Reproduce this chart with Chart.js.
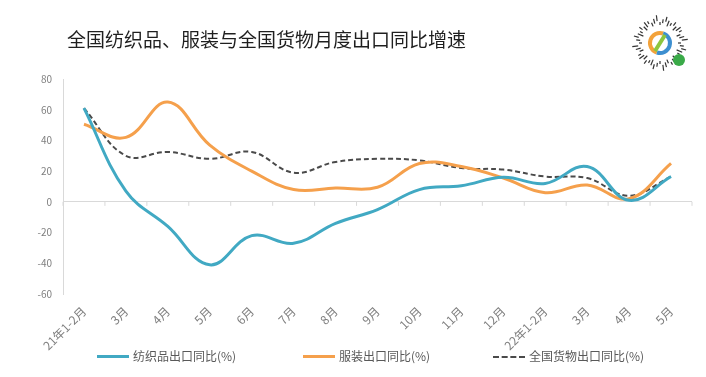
<!DOCTYPE html>
<html lang="zh">
<head>
  <meta charset="UTF-8" />
  <title>全国纺织品、服装与全国货物月度出口同比增速</title>
  <script src="https://cdn.jsdelivr.net/npm/chart.js"></script>
  <style>
    body {
      margin: 0;
      background: #fff;
      font-family: "Noto Sans CJK SC", "Noto Sans", sans-serif;
    }
    .wrap {
      position: relative;
      width: 706px;
      height: 377px;
    }
    #title {
      position: absolute;
      left: 67px;
      top: 25px;
      font-size: 19px;
      color: #1f1f1f;
      white-space: nowrap;
    }
    .item {
      position: absolute;
      top: 347px;
      font-size: 12px;
      color: #595959;
      white-space: nowrap;
      line-height: 18px;
    }
    .item i {
      display: inline-block;
      width: 32px;
      vertical-align: middle;
      margin-right: 4px;
      margin-top: -2px;
    }
  </style>
</head>
<body>
<div class="wrap">
  <canvas id="chart" width="706" height="377"></canvas>
  <div id="title">全国纺织品、服装与全国货物月度出口同比增速</div>
  <div class="item" style="left:97px"><i style="border-top:3px solid #41a9c3"></i>纺织品出口同比(%)</div>
  <div class="item" style="left:303px"><i style="border-top:3px solid #f5a04c"></i>服装出口同比(%)</div>
  <div class="item" style="left:493px"><i style="border-top:2px dashed #4a4a4a"></i>全国货物出口同比(%)</div>
</div>

<script>
  const labels = ['21年1-2月', '3月', '4月', '5月', '6月', '7月', '8月', '9月', '10月', '11月', '12月', '22年1-2月', '3月', '4月', '5月'];
  const textile = [61, 7, -16, -41, -22, -27, -14, -5, 8, 10.5, 16, 12, 23, 1, 16.5];
  const apparel = [50.5, 42, 65, 37, 20, 8, 9, 9.5, 25, 23, 15.5, 6, 11, 2, 25];
  const goods = [61, 30, 32.5, 28, 32.5, 19, 26, 28, 27, 22, 21, 16.5, 15.5, 4, 16.5];
  const yTicks = [-60, -40, -20, 0, 20, 40, 60, 80];

  // small tick marks along the zero line, between categories
  const zeroTicks = {
    id: 'zeroTicks',
    afterDatasetsDraw(chart) {
      const x = chart.scales.x, y = chart.scales.y;
      const y0 = y.getPixelForValue(0);
      const ctx = chart.ctx;
      ctx.save();
      ctx.strokeStyle = '#d9d9d9';
      ctx.lineWidth = 1;
      for (let i = 0; i <= labels.length; i++) {
        const px = x.getPixelForValue(i - 0.5);
        ctx.beginPath();
        ctx.moveTo(px, y0);
        ctx.lineTo(px, y0 + 4);
        ctx.stroke();
      }
      ctx.restore();
    }
  };

  // round logo in the top right corner
  const logo = {
    id: 'logo',
    afterDraw(chart) {
      const ctx = chart.ctx;
      const cx = 660, cy = 43;
      ctx.save();
      ctx.strokeStyle = '#333';
      ctx.lineWidth = 1.2;
      for (let i = 0; i < 48; i++) {
        const a = i / 48 * Math.PI * 2;
        const r1 = 18 + (i % 3) * 2, r2 = r1 + 3 + (i % 4);
        ctx.beginPath();
        ctx.moveTo(cx + Math.cos(a) * r1, cy + Math.sin(a) * r1);
        ctx.lineTo(cx + Math.cos(a) * r2, cy + Math.sin(a) * r2);
        ctx.stroke();
      }
      ctx.lineWidth = 4;
      ctx.strokeStyle = '#f3a23a';
      ctx.beginPath();
      ctx.arc(cx, cy, 10, Math.PI * 0.6, Math.PI * 1.6);
      ctx.stroke();
      ctx.strokeStyle = '#3d8fd0';
      ctx.beginPath();
      ctx.arc(cx, cy, 10, Math.PI * 1.6, Math.PI * 2.6);
      ctx.stroke();
      ctx.strokeStyle = '#8cc63f';
      ctx.beginPath();
      ctx.moveTo(cx - 5, cy + 8);
      ctx.quadraticCurveTo(cx, cy, cx + 5, cy - 8);
      ctx.stroke();
      ctx.fillStyle = '#3aaa48';
      ctx.beginPath();
      ctx.arc(cx + 19, cy + 17, 6, 0, Math.PI * 2);
      ctx.fill();
      ctx.restore();
    }
  };

  new Chart(document.getElementById('chart'), {
    type: 'line',
    data: {
      labels: labels,
      datasets: [
        { label: '纺织品出口同比(%)', data: textile, borderColor: '#41a9c3', borderWidth: 3 },
        { label: '服装出口同比(%)', data: apparel, borderColor: '#f5a04c', borderWidth: 3 },
        { label: '全国货物出口同比(%)', data: goods, borderColor: '#4a4a4a', borderWidth: 2, borderDash: [5, 3] }
      ]
    },
    options: {
      responsive: false,
      animation: false,
      layout: { padding: { top: 79, right: 14, bottom: 19, left: 0 } },
      elements: {
        point: { radius: 0 },
        line: { tension: 0.4, fill: false }
      },
      plugins: {
        legend: { display: false },
        title: { display: false },
        tooltip: { enabled: false }
      },
      scales: {
        x: {
          offset: true,
          grid: { display: false },
          border: { display: false },
          ticks: {
            color: '#7f7f7f',
            font: { size: 12, family: '"Noto Sans CJK SC"' },
            maxRotation: 45,
            minRotation: 45,
            autoSkip: false,
            padding: 2
          },
          afterFit(scale) { scale.height = 64; }
        },
        y: {
          min: -60,
          max: 80,
          afterBuildTicks(scale) { scale.ticks = yTicks.map(v => ({ value: v })); },
          grid: {
            drawTicks: false,
            color: ctx => ctx.tick && ctx.tick.value === 0 ? '#d9d9d9' : 'rgba(0,0,0,0)'
          },
          border: { display: true, color: '#d9d9d9' },
          ticks: {
            color: '#7f7f7f',
            font: { size: 10, family: '"Noto Sans CJK SC"' },
            padding: 11
          },
          afterFit(scale) { scale.width = 63; }
        }
      }
    },
    plugins: [zeroTicks, logo]
  });
</script>
</body>
</html>
